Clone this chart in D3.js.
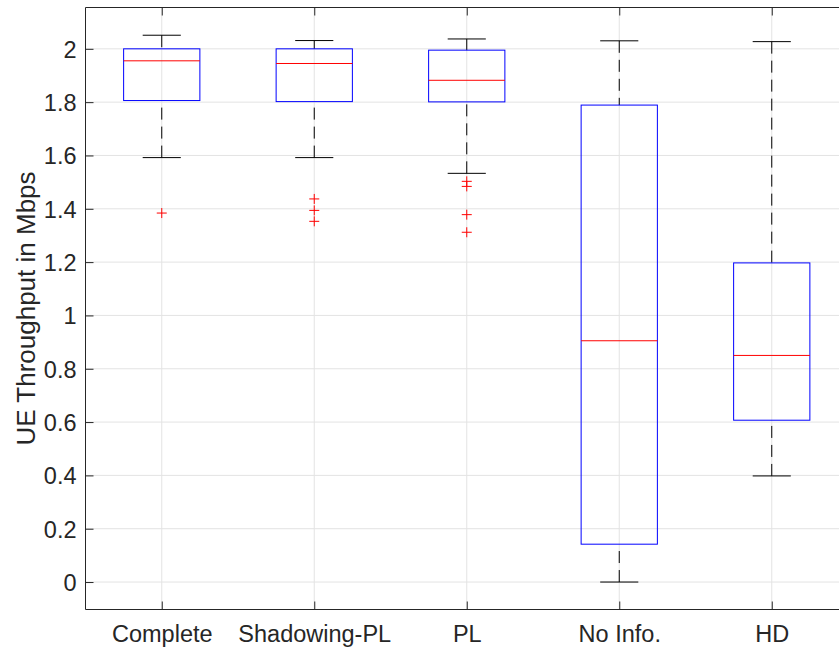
<!DOCTYPE html>
<html>
<head>
<meta charset="utf-8">
<script src="https://cdn.jsdelivr.net/npm/d3@7"></script>
<style>
  html, body { margin: 0; padding: 0; background: #fff; }
  svg { display: block; overflow: hidden; }
  text { font-family: "Liberation Sans", Arial, Helvetica, sans-serif; fill: #262626; }
</style>
</head>
<body>
<svg id="chart" width="839" height="648"></svg>
<script>
// Throughput statistics per scheme (Mbps)
const categories  = ["Complete", "Shadowing-PL", "PL", "No Info.", "HD"];
const whiskerHigh = [2.051, 2.031, 2.037, 2.030, 2.027];
const q3          = [2.000, 2.000, 1.995, 1.789, 1.197];
const medians     = [1.955, 1.945, 1.882, 0.905, 0.850];
const q1          = [1.806, 1.802, 1.801, 0.142, 0.607];
const whiskerLow  = [1.592, 1.592, 1.533, 0.000, 0.398];
const outliers    = [[1.384], [1.437, 1.394, 1.353], [1.503, 1.484, 1.378, 1.312], [], []];
const yTicks      = [0, 0.2, 0.4, 0.6, 0.8, 1, 1.2, 1.4, 1.6, 1.8, 2];
const yTickLabels = ["0", "0.2", "0.4", "0.6", "0.8", "1", "1.2", "1.4", "1.6", "1.8", "2"];
const yTitle = "UE Throughput in Mbps";

const svg = d3.select("#chart");
const plotLeft = 85.5, plotRight = 848, plotTop = 7.5, plotBottom = 609.5;

const x = d3.scaleLinear().domain([0.5, categories.length + 0.5]).range([plotLeft, plotRight]);
const y = d3.scaleLinear().domain([-0.103, 2.155]).range([plotBottom, plotTop]);
const pos = categories.map((c, i) => i + 1);

const boxHalf = 0.25, capHalf = 0.125;
const axisColor = "#262626";

// grid
const grid = svg.append("g");
grid.selectAll(".gy").data(yTicks).join("line")
  .attr("x1", plotLeft).attr("x2", plotRight)
  .attr("y1", d => y(d)).attr("y2", d => y(d))
  .attr("stroke", "#e3e3e3").attr("stroke-width", 1);
grid.selectAll(".gx").data(pos).join("line")
  .attr("x1", d => x(d)).attr("x2", d => x(d))
  .attr("y1", plotTop).attr("y2", plotBottom)
  .attr("stroke", "#e3e3e3").attr("stroke-width", 1);

// boxes
const g = svg.append("g");
pos.forEach((p, i) => {
  // whiskers, dashed from the cap toward the box
  g.append("line").attr("x1", x(p)).attr("x2", x(p))
    .attr("y1", y(whiskerHigh[i])).attr("y2", y(q3[i]))
    .attr("stroke", "#000").attr("stroke-width", 1).attr("stroke-dasharray", "12,7");
  g.append("line").attr("x1", x(p)).attr("x2", x(p))
    .attr("y1", y(whiskerLow[i])).attr("y2", y(q1[i]))
    .attr("stroke", "#000").attr("stroke-width", 1).attr("stroke-dasharray", "12,7");
  // caps
  [whiskerHigh[i], whiskerLow[i]].forEach(v => {
    g.append("line").attr("x1", x(p - capHalf)).attr("x2", x(p + capHalf))
      .attr("y1", y(v)).attr("y2", y(v))
      .attr("stroke", "#000").attr("stroke-width", 1);
  });
  // box
  g.append("rect")
    .attr("x", x(p - boxHalf)).attr("width", x(p + boxHalf) - x(p - boxHalf))
    .attr("y", y(q3[i])).attr("height", y(q1[i]) - y(q3[i]))
    .attr("fill", "none").attr("stroke", "#0000ff").attr("stroke-width", 1);
  // median
  g.append("line").attr("x1", x(p - boxHalf)).attr("x2", x(p + boxHalf))
    .attr("y1", y(medians[i])).attr("y2", y(medians[i]))
    .attr("stroke", "#ff0000").attr("stroke-width", 1);
  // outliers
  outliers[i].forEach(v => {
    const cx = x(p), cy = y(v), s = 5;
    g.append("path")
      .attr("d", `M${cx - s},${cy}H${cx + s}M${cx},${cy - s}V${cy + s}`)
      .attr("stroke", "#ff0000").attr("stroke-width", 1).attr("fill", "none");
  });
});

// axes
const yAxis = d3.axisLeft(y).tickValues(yTicks)
  .tickFormat((d, i) => yTickLabels[i]).tickSizeInner(-8).tickSizeOuter(0).tickPadding(10);
const ya = svg.append("g").attr("transform", `translate(${plotLeft},0)`).call(yAxis);
ya.select(".domain").remove();
ya.selectAll("line").attr("stroke", axisColor);
ya.selectAll("text").style("font-size", "23.5px").attr("x", -9).attr("dy", "0.36em").attr("fill", axisColor);

const xAxis = d3.axisBottom(x).tickValues(pos)
  .tickFormat((d, i) => categories[i]).tickSizeInner(-8).tickSizeOuter(0).tickPadding(14);
const xa = svg.append("g").attr("transform", `translate(0,${plotBottom})`).call(xAxis);
xa.select(".domain").remove();
xa.selectAll("line").attr("stroke", axisColor);
xa.selectAll("text").style("font-size", "23.5px").attr("y", 32).attr("dy", 0).attr("fill", axisColor);

const xTop = d3.axisTop(x).tickValues(pos).tickFormat("").tickSizeInner(-8).tickSizeOuter(0);
const xt = svg.append("g").attr("transform", `translate(0,${plotTop})`).call(xTop);
xt.select(".domain").remove();
xt.selectAll("line").attr("stroke", axisColor);

// axis frame
svg.append("path")
  .attr("d", `M${plotRight},${plotTop}H${plotLeft}V${plotBottom}H${plotRight}`)
  .attr("fill", "none").attr("stroke", axisColor).attr("stroke-width", 1);

// y title
svg.append("text")
  .attr("transform", `translate(35,${(plotTop + plotBottom) / 2}) rotate(-90)`)
  .attr("text-anchor", "middle")
  .style("font-size", "26px")
  .text(yTitle);
</script>
</body>
</html>
